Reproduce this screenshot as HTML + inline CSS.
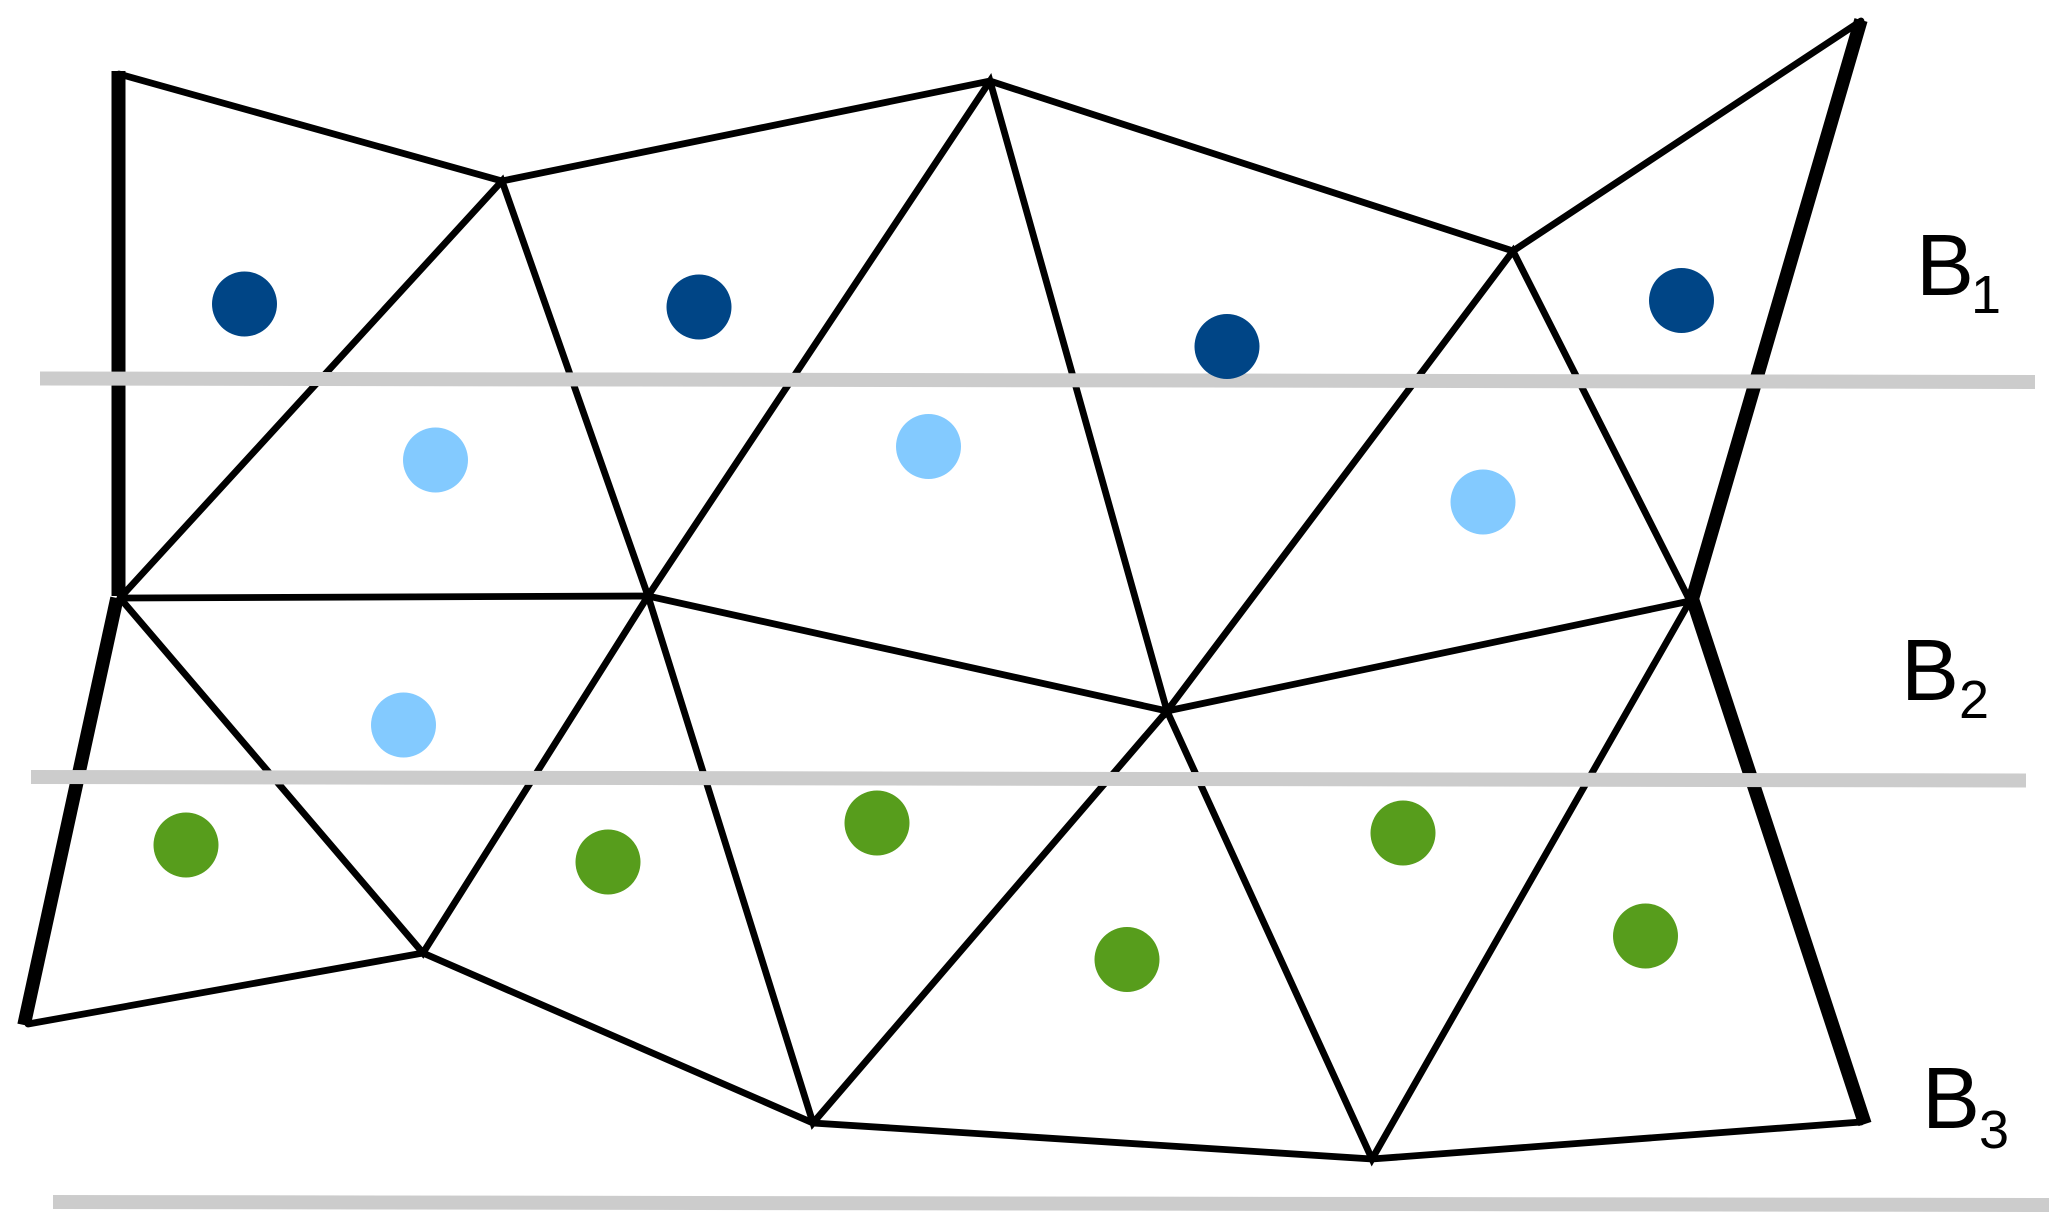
<!DOCTYPE html>
<html><head><meta charset="utf-8"><style>html,body{margin:0;padding:0;background:#fff}svg{display:block}</style></head><body>
<svg xmlns="http://www.w3.org/2000/svg" width="2067" height="1231" viewBox="0 0 2067 1231">
<rect width="2067" height="1231" fill="#fff"/>
<g stroke="#000" stroke-width="6.800" stroke-linecap="round" fill="none">
<path d="M119 74L502 181L990 81L1513 251L1861 21"/>
<path d="M120 598L502 181L648 596L990 81L1167 711L1513 251L1690 601"/>
<path d="M120 598L648 596L1167 711L1690 601"/>
<path d="M120 598L423 953L648 596L813 1123L1167 711L1372 1159L1690 601"/>
<path d="M28 1024L423 953L813 1123L1372 1159L1861 1122"/>
</g>
<g stroke="#000" fill="none" stroke-linecap="butt">
<path d="M118.500 71V596" stroke-width="14"/>
<path d="M117 598L24 1025" stroke-width="13.500"/>
<path d="M1861 20L1692 600" stroke-width="13.500"/>
<path d="M1692 598L1865 1124" stroke-width="13.500"/>
</g>
<g stroke="#ccc" stroke-width="14" fill="none">
<path d="M40 378.500L2035 382"/>
<path d="M31 777L2026 780.500"/>
<path d="M53 1202L2049 1205"/>
</g>
<g fill="#004586">
<circle cx="244.500" cy="304" r="32.500"/><circle cx="699" cy="307" r="32.500"/><circle cx="1227" cy="346.500" r="32.500"/><circle cx="1681.500" cy="300.500" r="32.500"/>
</g>
<g fill="#83caff">
<circle cx="435.500" cy="460" r="32.500"/><circle cx="928.500" cy="446.500" r="32.500"/><circle cx="1483" cy="502" r="32.500"/><circle cx="403.500" cy="725" r="32.500"/>
</g>
<g fill="#579d1c">
<circle cx="186" cy="845" r="32.500"/><circle cx="608" cy="862" r="32.500"/><circle cx="877" cy="823" r="32.500"/><circle cx="1127" cy="959.500" r="32.500"/><circle cx="1403" cy="833" r="32.500"/><circle cx="1645.500" cy="936" r="32.500"/>
</g>
<g font-family="'Liberation Sans',sans-serif" fill="#000">
<text x="1916" y="295" font-size="87">B</text><text x="1971" y="313" font-size="54">1</text>
<text x="1901" y="700" font-size="87">B</text><text x="1959" y="718" font-size="54">2</text>
<text x="1922" y="1128" font-size="87">B</text><text x="1979" y="1148" font-size="54">3</text>
</g>
</svg>
</body></html>
